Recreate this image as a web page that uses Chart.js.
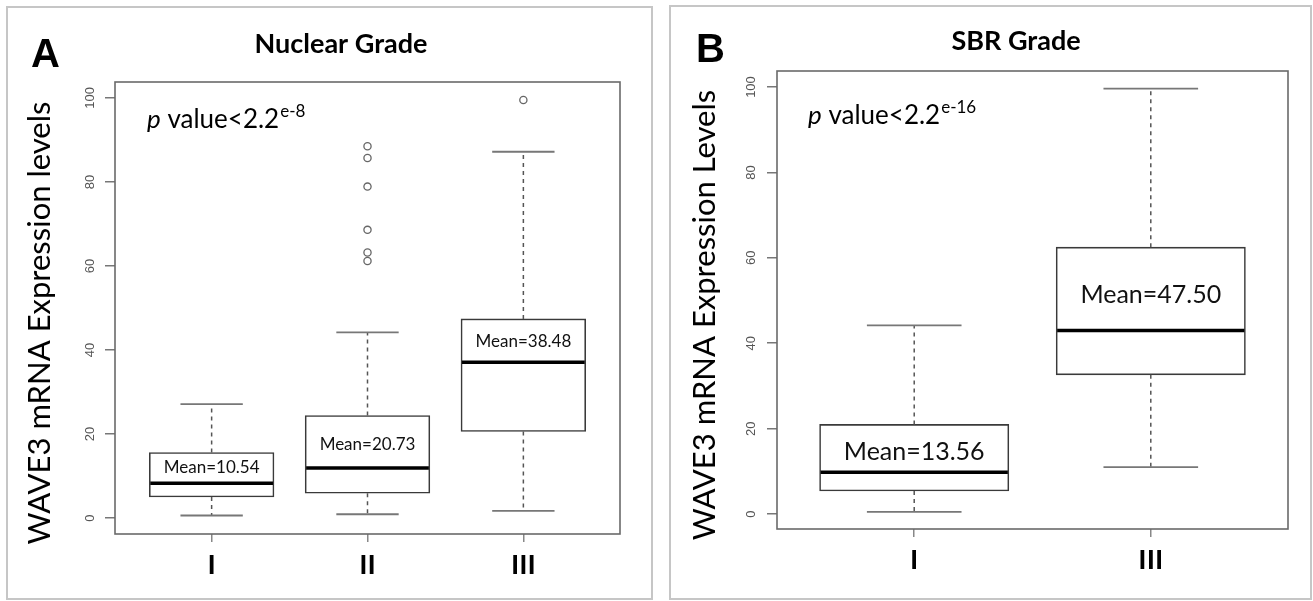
<!DOCTYPE html>
<html>
<head>
<meta charset="utf-8">
<script src="https://cdn.jsdelivr.net/npm/chart.js@4.4.1/dist/chart.umd.min.js"></script>
<style>
  html, body { margin: 0; padding: 0; background: #ffffff; }
  body { width: 1313px; height: 601px; overflow: hidden; position: relative; }
  .panel { position: absolute; border: 2px solid #c6c6c6; box-sizing: border-box; }
  canvas { position: absolute; top: 0; }
</style>
</head>
<body>
<div class="panel" style="left:6px; top:6px; width:647px; height:594px;"></div>
<div class="panel" style="left:669px; top:5px; width:643px; height:595px;"></div>
<canvas id="chartA" width="660" height="601" style="left:0px;"></canvas>
<canvas id="chartB" width="653" height="601" style="left:660px;"></canvas>
<script>
// ---------------- DATA ----------------
const yTickValues = [0, 20, 40, 60, 80, 100];

// Panel A : Nuclear Grade
const nuclearCategories   = ['I', 'II', 'III'];
const nuclearWhiskerLow   = [0.6, 0.9, 1.7];
const nuclearQ1           = [5.0, 5.9, 20.6];
const nuclearMedian       = [8.3, 11.9, 37.1];
const nuclearQ3           = [15.6, 24.4, 47.4];
const nuclearWhiskerHigh  = [27.1, 44.2, 87.2];
const nuclearOutliers     = [[], [88.5, 85.7, 78.9, 68.6, 63.2, 61.2], [99.5]];
const nuclearMeans        = ['10.54', '20.73', '38.48'];
const nuclearMeanLabelY   = [12.0, 17.4, 42.1];

// Panel B : SBR Grade
const sbrCategories       = ['I', 'III'];
const sbrWhiskerLow       = [0.5, 11.0];
const sbrQ1               = [5.4, 32.6];
const sbrMedian           = [9.8, 43.0];
const sbrQ3               = [21.0, 62.5];
const sbrWhiskerHigh      = [44.2, 99.6];
const sbrOutliers         = [[], []];
const sbrMeans            = ['13.56', '47.50'];
const sbrMeanLabelY       = [14.6, 51.3];

// ---------------- PLUGINS ----------------
const boxLinesPlugin = {
  id: 'boxLines',
  afterDatasetsDraw(chart, args, o) {
    const ctx = chart.ctx, xs = chart.scales.x, ys = chart.scales.y;
    ctx.save();
    for (let i = 0; i < o.median.length; i++) {
      const p = i + 1;
      const xc = xs.getPixelForValue(p);
      const capL = xs.getPixelForValue(p - 0.2), capR = xs.getPixelForValue(p + 0.2);
      const boxL = xs.getPixelForValue(p - 0.4), boxR = xs.getPixelForValue(p + 0.4);
      // dashed whiskers
      ctx.strokeStyle = '#555';
      ctx.lineWidth = 1.5;
      ctx.setLineDash([4, 4]);
      ctx.beginPath();
      ctx.moveTo(xc, ys.getPixelForValue(o.q3[i]));
      ctx.lineTo(xc, ys.getPixelForValue(o.high[i]));
      ctx.moveTo(xc, ys.getPixelForValue(o.q1[i]));
      ctx.lineTo(xc, ys.getPixelForValue(o.low[i]));
      ctx.stroke();
      ctx.setLineDash([]);
      // caps
      ctx.strokeStyle = '#777';
      ctx.lineWidth = 1.8;
      ctx.beginPath();
      ctx.moveTo(capL, ys.getPixelForValue(o.high[i]));
      ctx.lineTo(capR, ys.getPixelForValue(o.high[i]));
      ctx.moveTo(capL, ys.getPixelForValue(o.low[i]));
      ctx.lineTo(capR, ys.getPixelForValue(o.low[i]));
      ctx.stroke();
      // median
      ctx.strokeStyle = '#000';
      ctx.lineWidth = 3.5;
      ctx.beginPath();
      ctx.moveTo(boxL + 1, ys.getPixelForValue(o.median[i]));
      ctx.lineTo(boxR - 1, ys.getPixelForValue(o.median[i]));
      ctx.stroke();
      // mean label
      ctx.fillStyle = '#111';
      ctx.font = o.meanFont;
      ctx.textAlign = 'center';
      ctx.textBaseline = 'middle';
      ctx.fillText('Mean=' + o.means[i], xc, ys.getPixelForValue(o.meanY[i]));
    }
    // frame
    const a = chart.chartArea;
    ctx.strokeStyle = '#6a6a6a';
    ctx.lineWidth = 1.6;
    ctx.strokeRect(a.left, a.top, a.right - a.left, a.bottom - a.top);
    ctx.restore();
  }
};

const textPlugin = {
  id: 'panelText',
  afterDraw(chart, args, o) {
    const ctx = chart.ctx;
    ctx.save();
    ctx.fillStyle = '#000';
    // panel letter
    ctx.font = 'bold 40px "Liberation Sans", Arial, sans-serif';
    ctx.textAlign = 'left';
    ctx.textBaseline = 'alphabetic';
    ctx.fillText(o.letter, o.letterX, o.letterY);
    // title
    ctx.font = 'bold 27px Lato, sans-serif';
    ctx.textAlign = 'center';
    ctx.fillText(o.title, o.titleX, o.titleY);
    // y label
    ctx.save();
    ctx.translate(o.yLabelX, o.yLabelY);
    ctx.rotate(-Math.PI / 2);
    ctx.font = '31px Lato, sans-serif';
    ctx.textAlign = 'center';
    ctx.textBaseline = 'middle';
    ctx.fillText(o.yLabel, 0, 0);
    ctx.restore();
    // p value
    ctx.textAlign = 'left';
    ctx.textBaseline = 'alphabetic';
    let x = o.pX;
    ctx.font = 'italic 26px Lato, sans-serif';
    ctx.fillText('p', x, o.pY);
    x += ctx.measureText('p').width;
    ctx.font = '26px Lato, sans-serif';
    const main = ' value<2.2';
    ctx.fillText(main, x, o.pY);
    x += ctx.measureText(main).width + 1;
    ctx.font = '17px Lato, sans-serif';
    ctx.fillText(o.pExp, x, o.pY - 11);
    ctx.restore();
  }
};

// ---------------- BUILDER ----------------
function buildChart(canvasId, d, geo, txt) {
  const n = d.categories.length;
  const positions = d.categories.map((_, i) => i + 1);
  const ext = n * 0.04;
  const xMin = 0.5 - ext, xMax = n + 0.5 + ext;
  const areaW = geo.canvasW - geo.padLeft - geo.yAxisW - geo.padRight;
  const boxPx = areaW / (xMax - xMin) * 0.8;

  const datasets = [{
    type: 'bar',
    data: positions.map((p, i) => ({ x: p, y: [d.q1[i], d.q3[i]] })),
    backgroundColor: '#ffffff',
    borderColor: '#3a3a3a',
    borderWidth: 1.6,
    borderSkipped: false,
    barThickness: boxPx,
    order: 2
  }];
  const outPts = d.outliers.flatMap((arr, i) => arr.map(v => ({ x: positions[i], y: v })));
  if (outPts.length) {
    datasets.push({
      type: 'line',
      data: outPts,
      showLine: false,
      pointStyle: 'circle',
      pointRadius: 3.6,
      pointBorderWidth: 1.3,
      pointBorderColor: '#666',
      pointBackgroundColor: 'rgba(255,255,255,0)',
      order: 1
    });
  }

  return new Chart(document.getElementById(canvasId), {
    type: 'bar',
    data: { datasets },
    plugins: [boxLinesPlugin, textPlugin],
    options: {
      responsive: false,
      animation: false,
      events: [],
      layout: { padding: { left: geo.padLeft, right: geo.padRight, top: geo.padTop, bottom: geo.padBottom } },
      plugins: {
        legend: { display: false },
        title: { display: false },
        tooltip: { enabled: false },
        boxLines: {
          low: d.low, q1: d.q1, median: d.median, q3: d.q3, high: d.high,
          means: d.means, meanY: d.meanY, meanFont: txt.meanFont
        },
        panelText: txt
      },
      scales: {
        x: {
          type: 'linear',
          offset: false,
          min: xMin, max: xMax,
          afterBuildTicks: s => { s.ticks = positions.map(v => ({ value: v })); },
          afterFit: s => { s.height = geo.xAxisH; },
          ticks: {
            callback: v => d.categories[Math.round(v) - 1] || '',
            font: { family: 'Lato', weight: 'bold', size: 28 },
            color: '#000',
            padding: 8,
            autoSkip: false,
            maxRotation: 0
          },
          grid: { offset: false, drawOnChartArea: false, drawTicks: true, tickLength: 8, color: '#888', lineWidth: 1.5 },
          border: { display: false }
        },
        y: {
          type: 'linear',
          min: geo.yMin, max: geo.yMax,
          afterBuildTicks: s => { s.ticks = yTickValues.map(v => ({ value: v })); },
          afterFit: s => { s.width = geo.yAxisW; },
          ticks: {
            font: { family: 'Liberation Sans', size: 13 },
            color: '#555',
            minRotation: 90, maxRotation: 90,
            crossAlign: 'center',
            padding: geo.yTickPad,
            autoSkip: false
          },
          grid: { drawOnChartArea: false, drawTicks: true, tickLength: 10, color: '#777', lineWidth: 1.5 },
          border: { display: false }
        }
      }
    }
  });
}

buildChart('chartA',
  { categories: nuclearCategories, low: nuclearWhiskerLow, q1: nuclearQ1, median: nuclearMedian,
    q3: nuclearQ3, high: nuclearWhiskerHigh, outliers: nuclearOutliers, means: nuclearMeans, meanY: nuclearMeanLabelY },
  { canvasW: 660, padLeft: 0, padRight: 40, padTop: 82, padBottom: 27, yAxisW: 115, xAxisH: 40,
    yMin: -3.8, yMax: 103.8, yTickPad: 4 },
  { letter: 'A', letterX: 31, letterY: 67, title: 'Nuclear Grade', titleX: 341, titleY: 53,
    yLabel: 'WAVE3 mRNA Expression levels', yLabelX: 40, yLabelY: 323,
    pX: 147, pY: 128, pExp: 'e-8', meanFont: '17px Lato, sans-serif' }
);

buildChart('chartB',
  { categories: sbrCategories, low: sbrWhiskerLow, q1: sbrQ1, median: sbrMedian,
    q3: sbrQ3, high: sbrWhiskerHigh, outliers: sbrOutliers, means: sbrMeans, meanY: sbrMeanLabelY },
  { canvasW: 653, padLeft: 0, padRight: 25, padTop: 71, padBottom: 32, yAxisW: 117, xAxisH: 40,
    yMin: -3.5, yMax: 103.75, yTickPad: 5 },
  { letter: 'B', letterX: 36, letterY: 62, title: 'SBR Grade', titleX: 356, titleY: 50,
    yLabel: 'WAVE3 mRNA Expression Levels', yLabelX: 45, yLabelY: 315,
    pX: 148, pY: 124, pExp: 'e-16', meanFont: '25px Lato, sans-serif' }
);
</script>
</body>
</html>
